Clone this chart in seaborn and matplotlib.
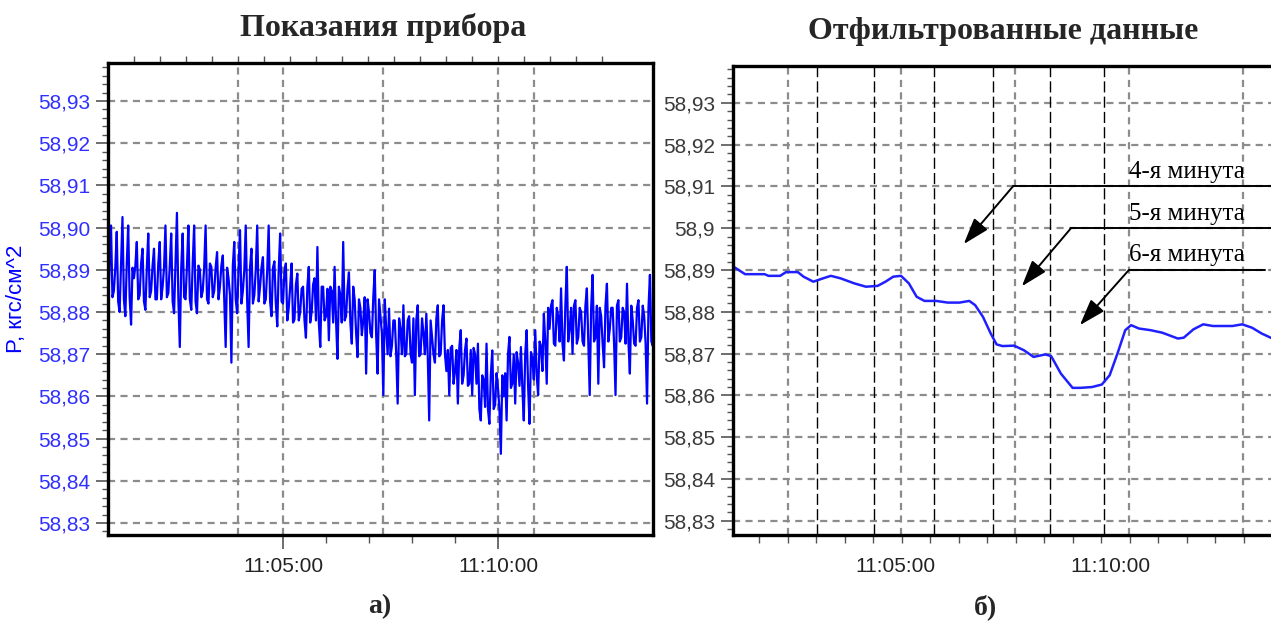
import numpy as np
import pandas as pd
import matplotlib
matplotlib.use("Agg")
import matplotlib.pyplot as plt
import matplotlib.dates as mdates
from matplotlib.ticker import FuncFormatter, MultipleLocator, FixedLocator
import seaborn as sns

sns.set_theme(style="white")
plt.rcParams['font.family'] = ['Liberation Sans', 'DejaVu Sans']

# ---- data -------------------------------------------------------------
day = pd.Timestamp("2000-01-01 11:00:00")

# raw instrument readings, one sample every 2 s from 11:00:52
# (spike samples at even steps, in-between samples at odd steps)
raw_start = "2000-01-01 11:00:52"
raw_step = "2s"
raw_peaks = [
    58.8965, 58.8805, 58.9005, 58.8850, 58.8990, 58.8800, 58.9025, 58.8790, 58.9005, 58.8770,
    58.8880, 58.8966, 58.8840, 58.8950, 58.8805, 58.8986, 58.8850, 58.8950, 58.8830, 58.8966,
    58.8860, 58.9005, 58.8845, 58.8986, 58.8797, 58.9035, 58.8717, 58.8986, 58.8830, 58.9005,
    58.8805, 58.9005, 58.8797, 58.8900, 58.8850, 58.9005, 58.8820, 58.8907, 58.8850, 58.8942,
    58.8860, 58.8934, 58.8717, 58.8880, 58.8680, 58.8966, 58.8797, 58.8994, 58.8850, 58.9005,
    58.8717, 58.8950, 58.8840, 58.9005, 58.8860, 58.8930, 58.8830, 58.9005, 58.8790, 58.8920,
    58.8766, 58.8986, 58.8820, 58.8915, 58.8810, 58.8915, 58.8782, 58.8891, 58.8800, 58.8860,
    58.8739, 58.8907, 58.8800, 58.8880, 58.8954, 58.8717, 58.8860, 58.8790, 58.8733, 58.8850,
    58.8907, 58.8689, 58.8840, 58.8966, 58.8790, 58.8894, 58.8725, 58.8830, 58.8693, 58.8810,
    58.8780, 58.8654, 58.8800, 58.8740, 58.8899, 58.8654, 58.8790, 58.8603, 58.8760, 58.8808,
    58.8720, 58.8780, 58.8583, 58.8760, 58.8816, 58.8700, 58.8790, 58.8680, 58.8603, 58.8816,
    58.8700, 58.8750, 58.8796, 58.8543, 58.8740, 58.8680, 58.8816, 58.8700, 58.8816, 58.8660,
    58.8603, 58.8720, 58.8660, 58.8583, 58.8757, 58.8650, 58.8737, 58.8630, 58.8603, 58.8700,
    58.8725, 58.8543, 58.8640, 58.8725, 58.8535, 58.8709, 58.8580, 58.8620, 58.8464, 58.8600,
    58.8543, 58.8741, 58.8630, 58.8583, 58.8680, 58.8717, 58.8543, 58.8757, 58.8535, 58.8690,
    58.8757, 58.8603, 58.8720, 58.8796, 58.8630, 58.8760, 58.8828, 58.8720, 58.8790, 58.8856,
    58.8685, 58.8907, 58.8760, 58.8701, 58.8828, 58.8740, 58.8800, 58.8720, 58.8856, 58.8603,
    58.8888, 58.8740, 58.8630, 58.8790, 58.8669, 58.8867, 58.8760, 58.8810, 58.8603, 58.8828,
    58.8740, 58.8800, 58.8867, 58.8654, 58.8780, 58.8720, 58.8828, 58.8740, 58.8790, 58.8583,
    58.8888, 58.8720, 58.8828, 58.8685, 58.8790,
]
raw_between = [
    58.8830, 58.8915, 58.8835, 58.8905, 58.8825, 58.8910, 58.8830, 58.8915, 58.8835, 58.8905,
    58.8910, 58.8830, 58.8915, 58.8825, 58.8905, 58.8835, 58.8910, 58.8830, 58.8915, 58.8830,
    58.8905, 58.8835, 58.8910, 58.8825, 58.8915, 58.8830, 58.8905, 58.8835, 58.8910, 58.8830,
    58.8915, 58.8825, 58.8910, 58.8835, 58.8905, 58.8830, 58.8915, 58.8835, 58.8905, 58.8830,
    58.8910, 58.8830, 58.8905, 58.8840, 58.8910, 58.8830, 58.8905,
    58.8820, 58.8900, 58.8825, 58.8905, 58.8820, 58.8900, 58.8825, 58.8905, 58.8820, 58.8900,
    58.8825, 58.8905, 58.8820, 58.8900, 58.8825, 58.8895,
    58.8780, 58.8860, 58.8775, 58.8865, 58.8780, 58.8855, 58.8780, 58.8860, 58.8775, 58.8865,
    58.8780, 58.8775, 58.8860, 58.8780, 58.8855, 58.8860, 58.8775, 58.8780, 58.8860, 58.8775,
    58.8780, 58.8855, 58.8775, 58.8860,
    58.8750, 58.8830, 58.8745, 58.8835, 58.8830, 58.8750, 58.8835, 58.8745, 58.8830, 58.8750,
    58.8830,
    58.8700, 58.8695, 58.8780, 58.8700, 58.8785, 58.8700, 58.8695, 58.8780, 58.8700, 58.8785,
    58.8780, 58.8695, 58.8785, 58.8700, 58.8695, 58.8780, 58.8700, 58.8785, 58.8695, 58.8780,
    58.8700,
    58.8710, 58.8715, 58.8630, 58.8710, 58.8715, 58.8630, 58.8710, 58.8625, 58.8710, 58.8715,
    58.8630,
    58.8570, 58.8650, 58.8575, 58.8570, 58.8650, 58.8570, 58.8655, 58.8570, 58.8650, 58.8655,
    58.8700, 58.8620, 58.8700, 58.8705, 58.8625, 58.8620, 58.8700, 58.8625, 58.8705, 58.8640,
    58.8650, 58.8730, 58.8660,
    58.8730, 58.8810, 58.8815, 58.8725, 58.8810, 58.8730, 58.8725, 58.8815, 58.8730, 58.8810,
    58.8815, 58.8725, 58.8810, 58.8730, 58.8815, 58.8725, 58.8810, 58.8730, 58.8815, 58.8810,
    58.8725, 58.8815, 58.8730, 58.8810, 58.8725, 58.8815, 58.8730, 58.8810, 58.8725, 58.8730,
    58.8815, 58.8725, 58.8810, 58.8730, 58.8815, 58.8725, 58.8810, 58.8730, 58.8815, 58.8725,
    58.8810,
]

# filtered curve (minutes after 11:00, value)
filt_minutes = [1.243, 1.515, 1.968, 2.059, 2.331, 2.467, 2.739, 2.875, 3.101, 3.328,
                3.509, 3.736, 4.053, 4.325, 4.597, 4.779, 4.960, 5.141, 5.323, 5.504,
                5.686, 5.957, 6.229, 6.501, 6.728, 6.864, 7.046, 7.227, 7.363, 7.499,
                7.771, 7.998, 8.224, 8.496, 8.632, 8.859, 9.131, 9.312, 9.584, 9.811,
                9.992, 10.174, 10.355, 10.491, 10.673, 10.944, 11.216, 11.579, 11.715, 11.941,
                12.168, 12.395, 12.848, 13.075, 13.302, 13.529, 13.738, 14.000]
filt_values = [58.8908, 58.8890, 58.8890, 58.8886, 58.8886, 58.8895, 58.8895, 58.8884, 58.8872, 58.8880,
               58.8886, 58.8880, 58.8868, 58.8860, 58.8862, 58.8872, 58.8884, 58.8886, 58.8868, 58.8836,
               58.8826, 58.8826, 58.8822, 58.8822, 58.8826, 58.8816, 58.8788, 58.8748, 58.8722, 58.8718,
               58.8719, 58.8708, 58.8692, 58.8698, 58.8694, 58.8652, 58.8618, 58.8618, 58.8620, 58.8626,
               58.8648, 58.8700, 58.8756, 58.8768, 58.8760, 58.8756, 58.8750, 58.8736, 58.8738, 58.8758,
               58.8770, 58.8766, 58.8766, 58.8770, 58.8762, 58.8748, 58.8738, 58.8732]

# minute boundaries (black dashed) on the filtered chart
minute_marks = [3.186, 4.512, 5.907, 7.279, 8.605, 9.860]

# callouts: label, line level, line start (min), arrow tip (min, value)
callout_labels = ["4-я минута", "5-я минута", "6-я минута"]
callout_levels = [58.910, 58.900, 58.890]
callout_start = [7.744, 9.093, 10.44]
callout_end = [14.2, 14.2, 13.60]
callout_tip_x = [6.60, 7.95, 9.30]
callout_tip_y = [58.8962, 58.8861, 58.8768]

y_ticks = [58.83, 58.84, 58.85, 58.86, 58.87, 58.88, 58.89, 58.90, 58.91, 58.92, 58.93]
time_labels = ["11:05:00", "11:10:00"]
time_label_minutes = [5, 10]

left_vgrid = [3.953, 5.0, 7.326, 10.0, 10.837]
right_vgrid = [2.512, 5.140, 7.791, 10.442, 13.093]


def num(m):
    return mdates.date2num(day + pd.to_timedelta(np.asarray(m, dtype=float), unit="min"))


raw_values = []
for k, v in enumerate(raw_peaks):
    raw_values.append(v)
    if k < len(raw_between):
        raw_values.append(raw_between[k])
raw_time = mdates.date2num(pd.date_range(raw_start, periods=len(raw_values), freq=raw_step))
filt_time = num(filt_minutes)

# ---- figure -----------------------------------------------------------
fig = plt.figure(figsize=(12.71, 6.23), dpi=100)
ax1 = fig.add_axes([0.08497, 0.14125, 0.4288, 0.75763])
ax2 = fig.add_axes([0.5767, 0.14125, 0.4343, 0.7528])

grid_kw = dict(color="#8c8c8c", lw=1.6, ls=(0, (3.2, 2.4)), zorder=0)
blue = "#0000ff"

# left: instrument readings
for v in y_ticks:
    ax1.axhline(v, **grid_kw)
for m in left_vgrid:
    ax1.axvline(num(m), **grid_kw)
sns.lineplot(x=raw_time, y=raw_values, ax=ax1, color=blue, linewidth=1.6,
             estimator=None, errorbar=None, sort=False)
ax1.set_xlim(num(0.930), num(13.605))
ax1.set_ylim(58.82716, 58.9390)

# right: filtered data
for v in y_ticks:
    ax2.axhline(v, **grid_kw)
for m in right_vgrid:
    ax2.axvline(num(m), **grid_kw)
for m in minute_marks:
    ax2.axvline(num(m), color="black", lw=1.0, ls=(0, (8, 3)), zorder=1)
sns.lineplot(x=filt_time, y=filt_values, ax=ax2, color="#2020ff", linewidth=1.8,
             estimator=None, errorbar=None, sort=False)
ax2.set_xlim(num(1.233), num(14.07))
ax2.set_ylim(58.8266, 58.9388)

for lab, lvl, xs, xe, tx, ty in zip(callout_labels, callout_levels, callout_start,
                                    callout_end, callout_tip_x, callout_tip_y):
    ax2.plot([num(xs), num(xe)], [lvl, lvl], color="black", lw=1.4, zorder=3)
    ax2.annotate("", xy=(num(tx), ty), xytext=(num(xs), lvl),
                 arrowprops=dict(arrowstyle="-|>,head_length=0.9,head_width=0.3",
                                 color="black", lw=1.4,
                                 mutation_scale=18, shrinkA=0, shrinkB=0), zorder=3)
    ax2.text(num(11.79), lvl + 0.0035, lab, family=["Liberation Serif", "DejaVu Serif"],
             fontsize=18, ha="center", va="center", color="black", zorder=3)

# axes styling
for ax, ycol in ((ax1, "#2f2fff"), (ax2, "#3a3a3a")):
    for s in ax.spines.values():
        s.set_color("black")
        s.set_linewidth(2.4)
    ax.set_xlabel("")
    ax.set_ylabel("")
    ax.yaxis.set_major_locator(FixedLocator(y_ticks))
    ax.yaxis.set_minor_locator(MultipleLocator(0.002))
    ax.tick_params(axis="y", which="major", direction="out", length=9, width=1.2,
                   color="#555555", labelsize=15, labelcolor=ycol, pad=4, left=True)
    ax.tick_params(axis="y", which="minor", direction="out", length=4, width=1.0,
                   color="#555555", left=True)
    ax.set_xticks(num(time_label_minutes))
    ax.set_xticklabels(time_labels)
    ax.tick_params(axis="x", which="major", direction="out", length=10, width=1.2,
                   color="#555555", labelsize=15, labelcolor="#222222", pad=6, bottom=True)
    ax.tick_params(axis="x", which="minor", direction="out", length=6, width=1.0,
                   color="#555555", bottom=True)

ax1.yaxis.set_major_formatter(FuncFormatter(lambda v, p: f"{v:.2f}".replace(".", ",")))
ax2.yaxis.set_major_formatter(
    FuncFormatter(lambda v, p: f"{v:.2f}".rstrip("0").replace(".", ",")))

ax1.xaxis.set_minor_locator(FixedLocator(num([6, 7, 8, 9])))
right_minor = np.arange(2.512 - 0.6628, 14.0, 0.6628)
ax2.xaxis.set_minor_locator(FixedLocator(num(right_minor)))
ax2.tick_params(axis="x", which="major", length=0, pad=16)

top = ax1.secondary_xaxis("top")
top.set_xticks(num(np.arange(1.54, 13.0, 0.605)))
top.set_xticklabels([])
top.tick_params(direction="out", length=5, width=1.0, color="#555555")
top.spines["top"].set_visible(False)

ax1.set_ylabel("P, кгс/см^2", color=blue, fontsize=16, labelpad=8)

serif = ["Liberation Serif", "DejaVu Serif"]
fig.text(0.3013, 0.955, "Показания прибора", family=serif, weight="bold",
         fontsize=23, ha="center", va="center")
fig.text(0.789, 0.949, "Отфильтрованные данные", family=serif, weight="bold",
         fontsize=23, ha="center", va="center")
fig.text(0.299, 0.026, "а)", family=serif, weight="bold", fontsize=20,
         ha="center", va="center")
fig.text(0.775, 0.026, "б)", family=serif, weight="bold", fontsize=20,
         ha="center", va="center")

fig.savefig("out.png", dpi=100, facecolor="white")
